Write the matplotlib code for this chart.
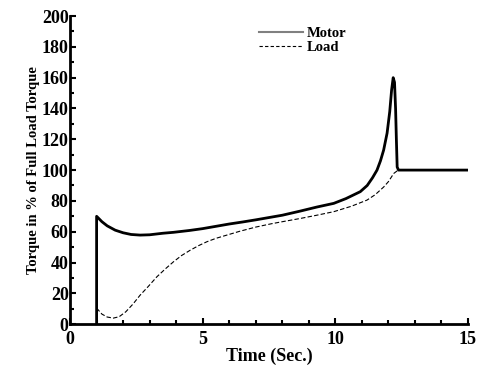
import matplotlib.pyplot as plt
from matplotlib.lines import Line2D
from matplotlib.ticker import MultipleLocator

# motor torque (% of full load)
t_motor = [1.0, 1.0, 1.2, 1.4, 1.7, 2.0, 2.3, 2.64, 3.0, 3.5, 3.9, 4.5, 5.0,
           5.5, 6.0, 6.5, 7.0, 7.5, 8.0, 8.68, 9.3, 9.94, 10.4, 10.94, 11.2,
           11.4, 11.57, 11.7, 11.82, 11.95, 12.05, 12.12, 12.18, 12.23, 12.27,
           12.3, 12.33, 12.38, 15.0]
motor = [0, 70, 66.5, 63.8, 61, 59.3, 58.2, 57.8, 58, 59, 59.6, 60.8, 62,
         63.5, 65, 66.3, 67.7, 69.2, 70.7, 73.4, 76, 78.4, 81.5, 86, 90,
         95, 100, 106, 113, 124, 138, 152, 160, 157, 140, 120, 102, 100, 100]

# load torque
t_load = [1.0, 1.2, 1.4, 1.63, 1.85, 2.1, 2.37, 2.64, 2.95, 3.27, 3.6, 3.9,
          4.2, 4.53, 4.85, 5.16, 5.5, 5.91, 6.4, 7.0, 7.6, 8.1, 8.68, 9.3,
          9.94, 10.6, 11.19, 11.5, 11.82, 12.0, 12.2, 12.33]
load = [10.4, 6.5, 4.6, 3.9, 4.8, 8, 13, 18.8, 24.5, 30.7, 36, 40.5, 44.5,
        48, 51, 53.5, 55.7, 57.8, 60.3, 63, 65.2, 66.8, 68.6, 70.7, 73, 76.5,
        80.5, 84, 89, 92.5, 97.8, 99.5]

plt.rcParams['font.family'] = 'Liberation Serif'
plt.rcParams['font.weight'] = 'bold'

fig = plt.figure(figsize=(4.8, 3.65), dpi=100)
ax = fig.add_axes([0.146, 0.112, 0.829, 0.844])

ax.plot(t_motor, motor, color='black', lw=2)
ax.plot(t_load, load, color='black', lw=0.8, ls=(0, (4, 2)))

ax.set_xlim(0, 15)
ax.set_ylim(0, 200)
ax.xaxis.set_major_locator(MultipleLocator(5))
ax.xaxis.set_minor_locator(MultipleLocator(1))
ax.yaxis.set_major_locator(MultipleLocator(20))
ax.yaxis.set_minor_locator(MultipleLocator(10))
ax.tick_params(which='both', direction='in', width=1.5, labelsize=13)
ax.tick_params(axis='y', pad=1)
ax.tick_params(axis='x', pad=5)
ax.tick_params(which='major', length=4)
ax.tick_params(which='minor', length=3)

for s in ['top', 'right']:
    ax.spines[s].set_visible(False)
for s in ['left', 'bottom']:
    ax.spines[s].set_linewidth(2)

ax.set_xlabel('Time (Sec.)', fontsize=13, fontweight='bold', labelpad=0)
ax.set_ylabel('Torque in % of Full Load Torque', fontsize=10.5,
              fontweight='bold', labelpad=1)

handles = [Line2D([], [], color='gray', lw=1.5),
           Line2D([], [], color='black', lw=0.8, ls=(0, (3, 2)))]
ax.legend(handles, ['Motor', 'Load'], loc='upper left',
          bbox_to_anchor=(0.46, 0.985), frameon=False, fontsize=10.5,
          handlelength=3, handletextpad=0.3, labelspacing=0.05,
          borderaxespad=0)

fig.savefig('out.png', dpi=100)
